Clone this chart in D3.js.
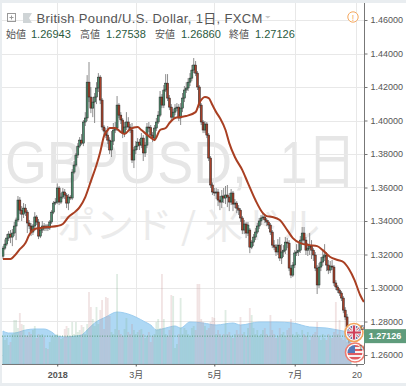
<!DOCTYPE html>
<html>
<head>
<meta charset="utf-8">
<script src="https://cdn.jsdelivr.net/npm/d3@7"></script>
<style>
html, body { margin: 0; padding: 0; background: #fff; overflow: hidden; }
text { font-family: "Liberation Sans", Arial, sans-serif; }
</style>
</head>
<body>
<script>
const opens = [1.3190,1.3238,1.3262,1.3298,1.3322,1.3304,1.3328,1.3370,1.3406,1.3525,1.3465,1.3441,1.3477,1.3453,1.3388,1.3370,1.3334,1.3370,1.3424,1.3394,
1.3310,1.3346,1.3370,1.3358,1.3370,1.3358,1.3394,1.3453,1.3507,1.3513,1.3597,1.3513,1.3543,1.3573,1.3555,1.3507,1.3543,1.3537,1.3692,1.3734,
1.3794,1.3847,1.3883,1.3865,1.3991,1.4015,1.4229,1.4140,1.4074,1.4110,1.4140,1.4194,1.4259,1.4122,1.3961,1.3937,1.3913,1.3883,1.3824,1.3877,
1.3943,1.3955,1.4092,1.4032,1.4003,1.3925,1.3961,1.3991,1.3961,1.3943,1.3764,1.3824,1.3847,1.3871,1.3853,1.3895,1.3806,1.3853,1.3961,1.3958,
1.3913,1.3895,1.3955,1.3991,1.4032,1.4140,1.4092,1.4182,1.4223,1.4134,1.4080,1.4020,1.4050,1.4074,1.4080,1.4015,1.4074,1.4134,1.4182,1.4194,
1.4229,1.4253,1.4301,1.4331,1.4283,1.4200,1.4092,1.3991,1.3943,1.3979,1.3913,1.3776,1.3615,1.3573,1.3567,1.3573,1.3525,1.3513,1.3549,1.3537,
1.3555,1.3543,1.3513,1.3567,1.3501,1.3507,1.3477,1.3465,1.3418,1.3346,1.3382,1.3328,1.3346,1.3244,1.3274,1.3304,1.3334,1.3370,1.3400,1.3418,
1.3424,1.3406,1.3394,1.3376,1.3334,1.3256,1.3244,1.3215,1.3256,1.3179,1.3215,1.3226,1.3274,1.3268,1.3119,1.3077,1.3137,1.3209,1.3215,1.3226,
1.3286,1.3328,1.3286,1.3226,1.3238,1.3250,1.3226,1.3197,1.3119,1.3018,1.3125,1.3155,1.3185,1.3197,1.3137,1.3107,1.3131,1.3125,1.3030,1.3006,
1.2988,1.2970,1.2940,1.2868,1.2827,1.2767,1.26943];
const closes = [1.3238,1.3262,1.3298,1.3322,1.3304,1.3328,1.3370,1.3406,1.3525,1.3465,1.3441,1.3477,1.3453,1.3388,1.3370,1.3334,1.3370,1.3424,1.3394,1.3310,
1.3346,1.3370,1.3358,1.3370,1.3358,1.3394,1.3453,1.3507,1.3513,1.3597,1.3513,1.3543,1.3573,1.3555,1.3507,1.3543,1.3537,1.3692,1.3734,1.3794,
1.3847,1.3883,1.3865,1.3991,1.4015,1.4229,1.4140,1.4074,1.4110,1.4140,1.4194,1.4259,1.4122,1.3961,1.3937,1.3913,1.3883,1.3824,1.3877,1.3943,
1.3955,1.4092,1.4032,1.4003,1.3925,1.3961,1.3991,1.3961,1.3943,1.3764,1.3824,1.3847,1.3871,1.3853,1.3895,1.3806,1.3853,1.3961,1.3958,1.3913,
1.3895,1.3955,1.3991,1.4032,1.4140,1.4092,1.4182,1.4223,1.4134,1.4080,1.4020,1.4050,1.4074,1.4080,1.4015,1.4074,1.4134,1.4182,1.4194,1.4229,
1.4253,1.4301,1.4331,1.4283,1.4200,1.4092,1.3991,1.3943,1.3979,1.3913,1.3776,1.3615,1.3573,1.3567,1.3573,1.3525,1.3513,1.3549,1.3537,1.3555,
1.3543,1.3513,1.3567,1.3501,1.3507,1.3477,1.3465,1.3418,1.3346,1.3382,1.3328,1.3376,1.3244,1.3274,1.3304,1.3334,1.3370,1.3400,1.3418,1.3424,
1.3406,1.3394,1.3376,1.3334,1.3256,1.3244,1.3215,1.3256,1.3179,1.3215,1.3226,1.3274,1.3268,1.3119,1.3077,1.3137,1.3209,1.3215,1.3226,1.3286,
1.3328,1.3286,1.3226,1.3238,1.3250,1.3226,1.3197,1.3119,1.3018,1.3125,1.3155,1.3185,1.3197,1.3137,1.3107,1.3131,1.3125,1.3030,1.3006,1.2988,
1.2970,1.2940,1.2868,1.2827,1.2767,1.2694,1.27126];
const highs = [1.3250,1.3290,1.3322,1.3340,1.3346,1.3352,1.3394,1.3420,1.3549,1.3543,1.3489,1.3507,1.3501,1.3465,1.3406,1.3388,1.3382,1.3453,1.3436,1.3412,
1.3364,1.3400,1.3388,1.3382,1.3382,1.3406,1.3465,1.3519,1.3537,1.3624,1.3609,1.3567,1.3597,1.3591,1.3567,1.3561,1.3555,1.3710,1.3758,1.3806,
1.3865,1.3901,1.3919,1.4003,1.4050,1.4271,1.4349,1.4200,1.4140,1.4164,1.4229,1.4283,1.4271,1.4134,1.3973,1.3955,1.3967,1.3900,1.3937,1.3985,
1.3991,1.4146,1.4104,1.4050,1.4015,1.3991,1.4050,1.4020,1.3979,1.3985,1.3842,1.3877,1.3895,1.3889,1.3925,1.3913,1.3871,1.3985,1.3991,1.3973,
1.3931,1.3973,1.4015,1.4056,1.4176,1.4158,1.4212,1.4277,1.4277,1.4152,1.4098,1.4068,1.4098,1.4104,1.4098,1.4104,1.4164,1.4206,1.4229,1.4253,
1.4283,1.4331,1.4373,1.4355,1.4295,1.4212,1.4104,1.4003,1.3997,1.3991,1.3925,1.3788,1.3630,1.3597,1.3597,1.3591,1.3549,1.3585,1.3597,1.3609,
1.3615,1.3567,1.3591,1.3579,1.3531,1.3519,1.3495,1.3477,1.3430,1.3406,1.3394,1.3394,1.3358,1.3286,1.3322,1.3358,1.3388,1.3418,1.3436,1.3447,
1.3436,1.3418,1.3406,1.3388,1.3346,1.3286,1.3262,1.3292,1.3304,1.3262,1.3256,1.3304,1.3298,1.3286,1.3137,1.3155,1.3226,1.3262,1.3268,1.3310,
1.3364,1.3364,1.3304,1.3268,1.3328,1.3286,1.3238,1.3215,1.3137,1.3149,1.3185,1.3227,1.3262,1.3215,1.3167,1.3161,1.3167,1.3137,1.3047,1.3018,
1.3000,1.2982,1.2952,1.2886,1.2845,1.2779,1.27538];
const lows = [1.3172,1.3226,1.3250,1.3280,1.3268,1.3250,1.3310,1.3286,1.3394,1.3441,1.3400,1.3418,1.3430,1.3328,1.3352,1.3310,1.3316,1.3340,1.3376,1.3292,
1.3298,1.3328,1.3340,1.3340,1.3340,1.3346,1.3382,1.3441,1.3495,1.3501,1.3495,1.3501,1.3531,1.3531,1.3477,1.3465,1.3525,1.3525,1.3680,1.3722,
1.3776,1.3835,1.3853,1.3847,1.3967,1.3997,1.4110,1.4044,1.4020,1.3985,1.4098,1.4170,1.4098,1.3943,1.3913,1.3895,1.3859,1.3800,1.3782,1.3853,
1.3925,1.3937,1.4014,1.3979,1.3895,1.3901,1.3943,1.3937,1.3925,1.3746,1.3716,1.3800,1.3824,1.3824,1.3835,1.3758,1.3782,1.3835,1.3931,1.3895,
1.3871,1.3877,1.3937,1.3979,1.4020,1.4074,1.4074,1.4170,1.4116,1.4062,1.4003,1.4003,1.4032,1.4056,1.3997,1.3973,1.4050,1.4110,1.4164,1.4176,
1.4206,1.4235,1.4283,1.4265,1.4182,1.4074,1.3973,1.3925,1.3925,1.3895,1.3758,1.3597,1.3555,1.3549,1.3531,1.3489,1.3465,1.3477,1.3507,1.3501,
1.3483,1.3459,1.3495,1.3459,1.3477,1.3447,1.3436,1.3394,1.3322,1.3322,1.3298,1.3310,1.3208,1.3232,1.3250,1.3286,1.3322,1.3352,1.3376,1.3406,
1.3388,1.3370,1.3352,1.3316,1.3238,1.3226,1.3191,1.3197,1.3161,1.3143,1.3185,1.3203,1.3238,1.3101,1.3059,1.3065,1.3119,1.3191,1.3191,1.3209,
1.3262,1.3262,1.3197,1.3191,1.3197,1.3173,1.3161,1.3101,1.2964,1.3000,1.3101,1.3131,1.3161,1.3101,1.3083,1.3089,1.3107,1.3012,1.2988,1.2970,
1.2952,1.2922,1.2850,1.2809,1.2749,1.2670,1.2686];
const volumes = [28,24,26,19,22,30,44,44,36,51,40,39,29,28,32,30,34,38,26,30,29,30,27,16,15,22,28,27,29,30,27,25,26,35,38,36,28,42,30,42,
32,34,39,37,30,40,72,57,45,38,57,40,54,64,35,67,66,48,32,30,35,90,34,30,28,35,46,32,30,40,34,30,32,34,35,30,26,28,32,22,
28,30,42,45,36,90,45,30,28,34,69,68,16,20,30,66,30,36,34,30,28,36,38,34,80,80,45,42,38,34,36,42,47,46,30,34,30,28,30,54,
30,32,28,26,30,34,30,47,30,32,28,36,56,49,36,30,34,28,30,34,36,30,28,49,34,30,26,28,36,30,32,28,34,36,45,30,28,32,30,26,
34,30,28,32,24,28,30,32,42,28,24,30,26,24,30,28,26,32,62,30,44,26,24,56,22,24,10];

// media movil desplazada, leida punto a punto
const maDays = [0,4,6,9,12,14,17,20,24,29,32,35,39,41,44,47,50,52,54,56,57,60,63,65,68,72,74,79,81,84,87,89,92,95,98,103,105,108,110,112,114,116,119,121,124,128,131,135,139,141,144,148,152,155,159,164,168,171,175,179,182,185,188,191,193];
const maValues = [1.3173,1.3173,1.3191,1.3232,1.3268,1.3316,1.3352,1.3358,1.3364,1.3370,1.3382,1.3424,1.3459,1.3483,1.3543,1.3638,1.3734,1.3812,1.3907,1.3943,1.3955,1.3955,1.3931,1.3919,1.3949,1.3961,1.3943,1.3898,1.3883,1.3943,1.3955,1.3985,1.4015,1.4021,1.4027,1.4050,1.4104,1.4140,1.4134,1.4092,1.4050,1.4015,1.3943,1.3865,1.3782,1.3704,1.3626,1.3525,1.3447,1.3429,1.3424,1.3406,1.3346,1.3298,1.3268,1.3256,1.3250,1.3226,1.3185,1.3167,1.3155,1.3113,1.3047,1.2958,1.2916];

const volMaDays = [0,3,6,12,17,22,26,29,33,39,42,45,49,55,61,65,71,76,79,82,87,92,95,100,107,114,123,127,137,146,155,164,173,182,186];
const volMaValues = [33,31,31,34,35,35,32,28,27,28,29,34,41,47,52,51,47,42,39,34,36,38,36,42,41,39,41,39,42,42,41,37,36,33,32];

const priceTicks = [1.26,1.28,1.30,1.32,1.34,1.36,1.38,1.40,1.42,1.44,1.46];
const timeTicks = [29,71,113,156,189];
const timeLabels = ["2018","3月","5月","7月","20"];
const ohlcLabels = ["始値","高値","安値","終値"];
const ohlcValues = ["1.26943","1.27538","1.26860","1.27126"];

const W = 406, H = 386;
const paneL = 2, paneR = 364, paneT = 3, paneB = 364;

const svg = d3.select("body").append("svg")
    .attr("width", W)
    .attr("height", H)
    .style("display", "block");

// fondo
svg.append("rect").attr("width", W).attr("height", H).attr("fill", "#fff");
svg.append("rect").attr("width", W).attr("height", paneT).attr("fill", "#e9edf0");
svg.append("rect").attr("width", paneL).attr("height", H).attr("fill", "#e9edf0");
svg.append("rect").attr("y", 383).attr("width", W).attr("height", 3).attr("fill", "#e9edf0");

const x = d3.scaleLinear().domain([0, 186]).range([3, 350.8]);
const y = d3.scaleLinear().domain([1.26, 1.46]).range([355, 20]);
const yVol = d3.scaleLinear().domain([0, 100]).range([paneB, paneB - 100]);

svg.append("clipPath").attr("id", "pane")
    .append("rect")
    .attr("x", paneL).attr("y", paneT)
    .attr("width", paneR - paneL).attr("height", paneB - paneT);

const pane = svg.append("g").attr("clip-path", "url(#pane)");

// marca de agua
pane.append("text")
    .attr("x", 5).attr("y", 183)
    .attr("font-size", 60)
    .attr("textLength", 242)
    .attr("lengthAdjust", "spacingAndGlyphs")
    .attr("fill", "#e6e6e6")
    .text("GBPUSD,");
pane.append("text")
    .attr("x", 280).attr("y", 183)
    .attr("font-size", 60)
    .attr("textLength", 76)
    .attr("lengthAdjust", "spacingAndGlyphs")
    .attr("fill", "#e6e6e6")
    .style("font-family", "'Liberation Sans','Noto Sans CJK JP'")
    .text("1日");
pane.append("text")
    .attr("x", 57).attr("y", 239)
    .attr("font-size", 37)
    .attr("textLength", 263)
    .attr("lengthAdjust", "spacingAndGlyphs")
    .attr("fill", "#ebebeb")
    .style("font-family", "'Noto Sans CJK JP'")
    .text("ポンド / 米ドル");

// rejilla
pane.append("g").selectAll("line").data(priceTicks).join("line")
    .attr("x1", paneL).attr("x2", paneR)
    .attr("y1", d => Math.round(y(d)) + 0.5).attr("y2", d => Math.round(y(d)) + 0.5)
    .attr("stroke", "#e8e8e8");
pane.append("g").selectAll("line").data(timeTicks).join("line")
    .attr("x1", d => Math.round(x(d)) + 0.5).attr("x2", d => Math.round(x(d)) + 0.5)
    .attr("y1", paneT).attr("y2", paneB)
    .attr("stroke", "#e8e8e8");

// volumen
const volArea = d3.area()
    .curve(d3.curveMonotoneX)
    .x((d, i) => x(volMaDays[i]))
    .y0(paneB)
    .y1(d => yVol(d));
pane.append("path").datum(volMaValues)
    .attr("d", volArea)
    .attr("fill", "#aed8f4")
    .attr("stroke", "#9ccdf0")
    .attr("stroke-width", 1);
pane.append("g").selectAll("rect").data(volumes).join("rect")
    .attr("x", (d, i) => x(i) - 0.9)
    .attr("width", 1.8)
    .attr("y", d => yVol(d))
    .attr("height", d => paneB - yVol(d))
    .attr("fill", (d, i) => closes[i] >= opens[i] ? "#7fb38f" : "#c98f8f")
    .attr("opacity", 0.25);

// linea del ultimo cierre
const lastClose = closes[closes.length - 1];
pane.append("line")
    .attr("x1", paneL).attr("x2", paneR)
    .attr("y1", y(lastClose)).attr("y2", y(lastClose))
    .attr("stroke", "#5a9a78")
    .attr("stroke-dasharray", "1,1.5");

// velas
const candles = pane.append("g");
candles.selectAll("line").data(closes).join("line")
    .attr("x1", (d, i) => x(i)).attr("x2", (d, i) => x(i))
    .attr("y1", (d, i) => y(highs[i])).attr("y2", (d, i) => y(lows[i]))
    .attr("stroke", "#8c8c8c")
    .attr("stroke-width", 1);
candles.selectAll("rect").data(closes).join("rect")
    .attr("x", (d, i) => x(i) - 1)
    .attr("width", 2)
    .attr("y", (d, i) => y(Math.max(opens[i], d)))
    .attr("height", (d, i) => Math.max(1, Math.abs(y(opens[i]) - y(d))))
    .attr("fill", (d, i) => d >= opens[i] ? "#4f8f6f" : "#a8412a")
    .attr("stroke", "#222")
    .attr("stroke-width", 0.5);

// media movil
const maLine = d3.line()
    .curve(d3.curveMonotoneX)
    .x((d, i) => x(maDays[i]))
    .y(d => y(d));
pane.append("path").datum(maValues)
    .attr("d", maLine)
    .attr("fill", "none")
    .attr("stroke", "#a93f22")
    .attr("stroke-width", 2);

// banderas
function flag(id, cx, cy, r, ring, base) {
    pane.append("circle").attr("cx", cx).attr("cy", cy).attr("r", r)
        .attr("fill", "#fff").attr("stroke", ring).attr("stroke-width", 1.6);
    svg.append("clipPath").attr("id", id)
        .append("circle").attr("cx", cx).attr("cy", cy).attr("r", r - 2);
    const g = pane.append("g").attr("clip-path", `url(#${id})`);
    g.append("rect").attr("x", cx - r).attr("y", cy - r).attr("width", 2 * r).attr("height", 2 * r).attr("fill", base);
    return g;
}
const gb = flag("flagGb", 354, 332.5, 9, "#f2a45c", "#5d6fa6");
gb.append("path")
    .attr("d", "M346,325L362,340M362,325L346,340")
    .attr("stroke", "#eee").attr("stroke-width", 3);
gb.append("path")
    .attr("d", "M346,325L362,340M362,325L346,340")
    .attr("stroke", "#d0485c").attr("stroke-width", 1);
gb.append("path")
    .attr("d", "M354,324V341M345,332.5H363")
    .attr("stroke", "#eee").attr("stroke-width", 4);
gb.append("path")
    .attr("d", "M354,324V341M345,332.5H363")
    .attr("stroke", "#d0405a").attr("stroke-width", 2.2);
const us = flag("flagUs", 355, 352.5, 9.5, "#ee7a6e", "#f6f0f0");
us.append("rect").attr("x", 355).attr("y", 345).attr("width", 10).attr("height", 2).attr("fill", "#e05a60");
us.append("rect").attr("x", 355).attr("y", 349).attr("width", 10).attr("height", 2).attr("fill", "#e05a60");
us.append("rect").attr("x", 345).attr("y", 353).attr("width", 20).attr("height", 2).attr("fill", "#e05a60");
us.append("rect").attr("x", 345).attr("y", 357).attr("width", 20).attr("height", 2.5).attr("fill", "#e05a60");
us.append("rect").attr("x", 347).attr("y", 345).attr("width", 8).attr("height", 8).attr("fill", "#5679b8");
pane.append("text").attr("x", 360).attr("y", 330).attr("font-size", 8).attr("fill", "#555").text("6");
pane.append("text").attr("x", 358.5).attr("y", 350).attr("font-size", 8).attr("fill", "#555").text("10");

// ejes
const axisY = svg.append("g")
    .attr("transform", `translate(${paneR + 0.5},0)`)
    .call(d3.axisRight(y).tickValues(priceTicks).tickFormat(d3.format(".5f")).tickSize(3).tickPadding(3));
axisY.select(".domain").attr("d", `M0,${paneT}V${paneB}`).attr("stroke", "#777");
axisY.selectAll("line").attr("stroke", "#777");
axisY.selectAll("text").attr("font-size", 9).attr("fill", "#555").style("font-family", "'Liberation Sans'");

const axisX = svg.append("g")
    .attr("transform", `translate(0,${paneB + 0.5})`)
    .call(d3.axisBottom(x).tickValues(timeTicks).tickFormat((d, i) => timeLabels[i]).tickSize(2).tickPadding(5));
axisX.select(".domain").attr("d", `M${paneL},0H${paneR}`).attr("stroke", "#777");
axisX.selectAll("line").attr("stroke", "#555");
axisX.selectAll("text")
    .attr("font-size", 9).attr("fill", "#555")
    .attr("font-weight", (d, i) => i === 0 ? "bold" : "normal")
    .style("font-family", "'Liberation Sans','Noto Sans CJK JP'");

// etiqueta del precio
svg.append("rect")
    .attr("x", paneR).attr("y", y(lastClose) - 7)
    .attr("width", W - paneR).attr("height", 14)
    .attr("fill", "#5f9c7c");
svg.append("text")
    .attr("x", 385).attr("y", y(lastClose) + 3.2)
    .attr("text-anchor", "middle")
    .attr("font-size", 9).attr("font-weight", "bold")
    .attr("fill", "#fff")
    .text(d3.format(".5f")(lastClose));

// cabecera
const head = svg.append("g");
head.append("rect").attr("x", 7.5).attr("y", 13.5).attr("width", 8).attr("height", 8)
    .attr("fill", "none").attr("stroke", "#999");
head.append("path").attr("d", "M9.5,17.5H13.5M11.5,15.5V19.5").attr("stroke", "#999");
head.append("path").attr("d", "M23,13H32L29,18L32,23H23Z").attr("fill", "#cfd4d6");
head.append("text")
    .attr("x", 36.5).attr("y", 23)
    .attr("font-size", 13)
    .attr("letter-spacing", 0.33)
    .attr("fill", "#555")
    .style("font-family", "'Liberation Sans','Noto Sans CJK JP'")
    .text("British Pound/U.S. Dollar, 1日, FXCM");
head.append("path").attr("d", "M265,16H270.5L267.8,18.5Z").attr("fill", "#c8c8c8");

const labelX = [6, 80, 155, 229];
const valueX = [31, 106, 181, 255];
ohlcLabels.forEach((d, i) => {
    head.append("text").attr("x", labelX[i]).attr("y", 37.5)
        .attr("font-size", 10).attr("fill", "#555")
        .style("font-family", "'Noto Sans CJK JP'").text(d);
    head.append("text").attr("x", valueX[i]).attr("y", 38)
        .attr("font-size", 11).attr("fill", "#2a5a3e").text(ohlcValues[i]);
});

// aviso
head.append("circle").attr("cx", 353).attr("cy", 17).attr("r", 5.2)
    .attr("fill", "#fff").attr("stroke", "#f5a860").attr("stroke-width", 1);
head.append("text").attr("x", 353).attr("y", 20.5).attr("text-anchor", "middle")
    .attr("font-size", 9).attr("fill", "#f5a860").text("!");
</script>
</body>
</html>
